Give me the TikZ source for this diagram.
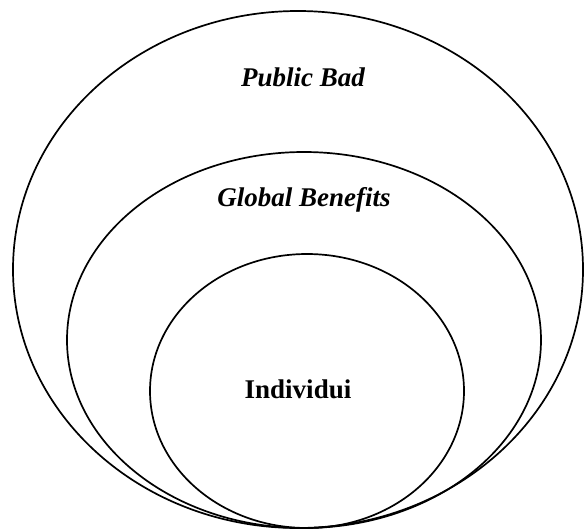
\documentclass[tikz,border=0pt]{standalone}
\usepackage{fontspec}
\setmainfont{Liberation Serif}
\usetikzlibrary{shapes.geometric}
\begin{document}
\begin{tikzpicture}[x=1pt,y=-1pt,
  ring/.style={ellipse,draw,line width=1.7pt,inner sep=0pt},
  lbl/.style={font=\fontsize{27}{30}\selectfont\bfseries\itshape,inner sep=0pt},
  lblup/.style={font=\fontsize{27}{30}\selectfont\bfseries,inner sep=0pt}]
\useasboundingbox (0,0) rectangle (584,531);
\node[ring,minimum width=570pt,minimum height=517pt] (outer) at (298,269.5) {};
\node[ring,minimum width=474pt,minimum height=376pt] (middle) at (304,340) {};
\node[ring,minimum width=314pt,minimum height=274pt] (inner) at (307,391) {};
\node[lbl,anchor=base] (pb) at (303,86) {Public Bad};
\node[lbl,anchor=base] (gb) at (304,206) {Global Benefits};
\node[lblup,anchor=base] (ind) at (298,398) {Individui};
\end{tikzpicture}
\end{document}
